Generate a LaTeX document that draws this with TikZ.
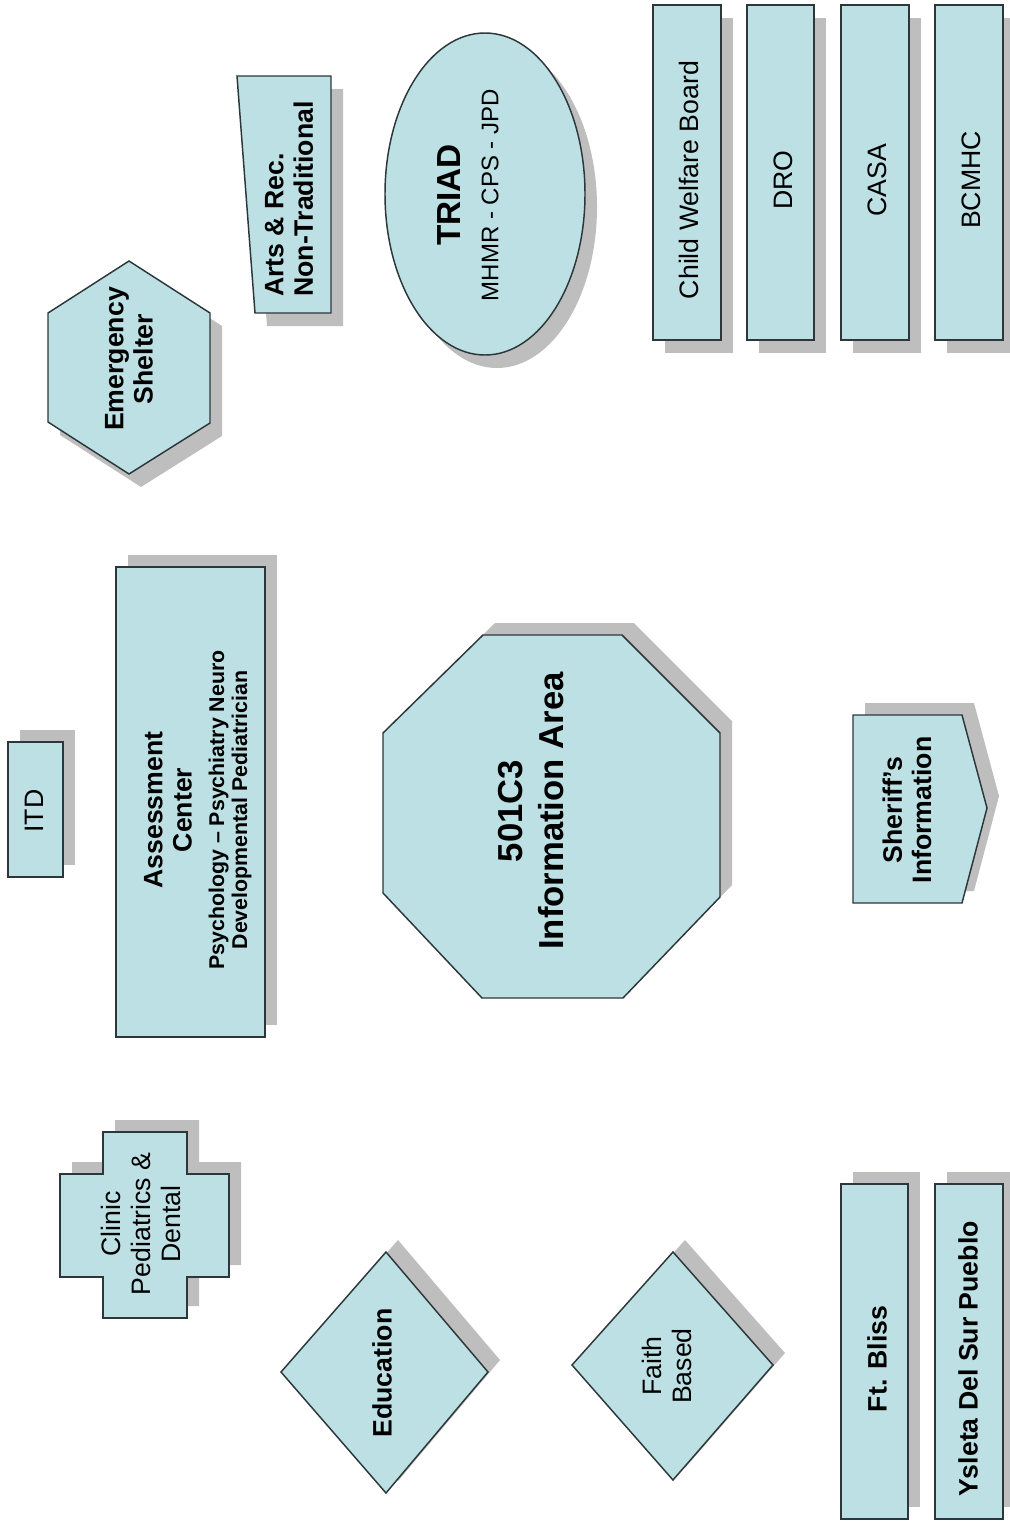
\documentclass[tikz,border=0pt]{standalone}
\usepackage{fontspec}
\setmainfont{Liberation Sans}

\definecolor{boxfill}{RGB}{188,224,228}
\definecolor{boxline}{RGB}{45,55,58}
\definecolor{shadegray}{RGB}{190,190,190}

\tikzset{every picture/.style={line width=0.75pt}}
\tikzset{
  panel/.style={draw=boxline, fill=boxfill, line width=1.1},
  shadedn/.style={fill=shadegray, shift={(12,13)}},
  shadeup/.style={fill=shadegray, shift={(12,-12)}},
  lbl/.style={rotate=90, align=center, inner sep=0pt, font=\fontsize{20}{22}\selectfont},
  lblb/.style={lbl, font=\fontsize{20}{22}\selectfont\bfseries},
}

\begin{document}
\begin{tikzpicture}[x=0.75pt,y=0.75pt,yscale=-1,xscale=1]
	\useasboundingbox (0,0) rectangle (1010,1525);

	%Shape: Hexagon
	\fill [shadedn] (129,261) -- (210,313) -- (210,423) -- (129,474) -- (48,422) -- (48,313) -- cycle ;
	\draw [panel] (129,261) -- (210,313) -- (210,423) -- (129,474) -- (48,422) -- (48,313) -- cycle ;
	%Shape: Trapezoid
	\fill [shadedn] (237,76) -- (331,76) -- (331,313) -- (255,313) -- cycle ;
	\draw [panel] (237,76) -- (331,76) -- (331,313) -- (255,313) -- cycle ;
	%Shape: Ellipse
	\fill [shadedn] (485,194) ellipse [x radius=100, y radius=161] ;
	\draw [panel] (485,194) ellipse [x radius=100, y radius=161] ;
	%Shape: Rectangle
	\fill [shadedn] (653,5) rectangle (721,340) ;
	\draw [panel] (653,5) rectangle (721,340) ;
	%Shape: Rectangle
	\fill [shadedn] (747,5) rectangle (814,340) ;
	\draw [panel] (747,5) rectangle (814,340) ;
	%Shape: Rectangle
	\fill [shadedn] (841,5) rectangle (909,340) ;
	\draw [panel] (841,5) rectangle (909,340) ;
	%Shape: Rectangle
	\fill [shadedn] (935,5) rectangle (1003,340) ;
	\draw [panel] (935,5) rectangle (1003,340) ;

	%Shape: Rectangle
	\fill [shadeup] (8,742) rectangle (63,877) ;
	\draw [panel] (8,742) rectangle (63,877) ;
	%Shape: Rectangle
	\fill [shadeup] (116,567) rectangle (265,1037) ;
	\draw [panel] (116,567) rectangle (265,1037) ;
	%Shape: Octagon
	\fill [shadeup] (483,635) -- (622,635) -- (720,733) -- (720,897) -- (623,998) -- (482,998) -- (383,893) -- (383,733) -- cycle ;
	\draw [panel] (483,635) -- (622,635) -- (720,733) -- (720,897) -- (623,998) -- (482,998) -- (383,893) -- (383,733) -- cycle ;
	%Shape: Pentagon Arrow
	\fill [shadeup] (853,715) -- (962,715) -- (987,808) -- (962,903) -- (853,903) -- cycle ;
	\draw [panel] (853,715) -- (962,715) -- (987,808) -- (962,903) -- (853,903) -- cycle ;

	%Shape: Cross
	\fill [shadeup] (103,1132) -- (187,1132) -- (187,1174) -- (229,1174) -- (229,1277) -- (187,1277) -- (187,1318) -- (103,1318) -- (103,1277) -- (60,1277) -- (60,1174) -- (103,1174) -- cycle ;
	\draw [panel] (103,1132) -- (187,1132) -- (187,1174) -- (229,1174) -- (229,1277) -- (187,1277) -- (187,1318) -- (103,1318) -- (103,1277) -- (60,1277) -- (60,1174) -- (103,1174) -- cycle ;
	%Shape: Diamond
	\fill [shadeup] (386,1252) -- (488,1372) -- (386,1493) -- (281,1372) -- cycle ;
	\draw [panel] (386,1252) -- (488,1372) -- (386,1493) -- (281,1372) -- cycle ;
	%Shape: Diamond
	\fill [shadeup] (673,1252) -- (773,1365) -- (673,1480) -- (572,1365) -- cycle ;
	\draw [panel] (673,1252) -- (773,1365) -- (673,1480) -- (572,1365) -- cycle ;
	%Shape: Rectangle
	\fill [shadeup] (841,1184) rectangle (908,1519) ;
	\draw [panel] (841,1184) rectangle (908,1519) ;
	%Shape: Rectangle
	\fill [shadeup] (935,1184) rectangle (1003,1519) ;
	\draw [panel] (935,1184) rectangle (1003,1519) ;

	% Text Node
	\draw (129,359) node [lblb] (shelter) {Emergency\\Shelter};
	% Text Node
	\draw (289,199) node [lblb, align=left] (arts) {Arts \& Rec.\\Non-Traditional};
	% Text Node
	\draw (468,195) node [lbl, font=\fontsize{18}{28.5}\selectfont] (triad) {{\fontsize{25}{28.5}\selectfont\bfseries TRIAD}\\MHMR - CPS - JPD};
	% Text Node
	\draw (689,180) node [lbl] (welfare) {Child Welfare Board};
	% Text Node
	\draw (783,180) node [lbl] (dro) {DRO};
	% Text Node
	\draw (877,180) node [lbl] (casa) {CASA};
	% Text Node
	\draw (971,180) node [lbl] (bcmhc) {BCMHC};
	% Text Node
	\draw (34,811) node [lbl] (itd) {ITD};
	% Text Node
	\draw (168,810) node [lblb] (assess) {Assessment\\Center};
	% Text Node
	\draw (230,810) node [lbl, font=\fontsize{16}{17.25}\selectfont\bfseries] (assesssub) {Psychology -- Psychiatry Neuro\\Developmental Pediatrician};
	% Text Node
	\draw (531,811) node [lbl, font=\fontsize{26}{30.75}\selectfont\bfseries] (info) {501C3\\Information Area};
	% Text Node
	\draw (907,810) node [lblb] (sheriff) {Sheriff’s\\Information};
	% Text Node
	\draw (141,1224) node [lbl, font=\fontsize{20}{22.5}\selectfont] (clinic) {Clinic\\Pediatrics \&\\Dental};
	% Text Node
	\draw (382,1373) node [lblb] (edu) {Education};
	% Text Node
	\draw (667,1366) node [lbl] (faith) {Faith\\Based};
	% Text Node
	\draw (877,1359) node [lblb] (bliss) {Ft. Bliss};
	% Text Node
	\draw (968,1359) node [lblb] (ysleta) {Ysleta Del Sur Pueblo};

\end{tikzpicture}
\end{document}
